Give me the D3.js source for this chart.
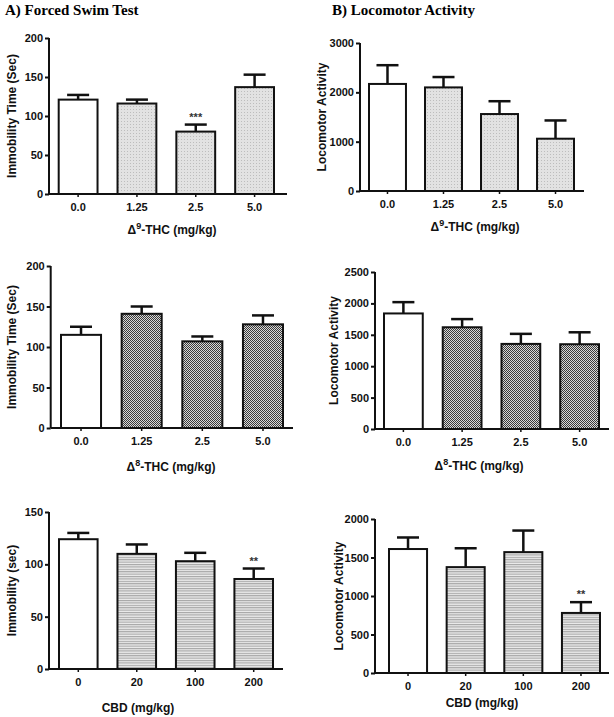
<!DOCTYPE html>
<html><head><meta charset="utf-8">
<script src="https://cdn.jsdelivr.net/npm/d3@7"></script>
<style>body{margin:0;background:#fff}svg{display:block}</style>
</head><body>
<svg id="c" width="614" height="717"></svg>
<script>
// ---- data ----
const thcDoses = ["0.0", "1.25", "2.5", "5.0"];
const cbdDoses = ["0", "20", "100", "200"];

const fstD9Mean = [121, 116, 80, 137];
const fstD9Err  = [127, 121, 89, 153];
const fstD9Sig  = ["", "", "***", ""];

const locD9Mean = [2170, 2100, 1560, 1060];
const locD9Err  = [2550, 2310, 1820, 1430];
const locD9Sig  = ["", "", "", ""];

const fstD8Mean = [115, 141, 107, 128];
const fstD8Err  = [125, 150, 113, 139];
const fstD8Sig  = ["", "", "", ""];

const locD8Mean = [1840, 1620, 1355, 1350];
const locD8Err  = [2020, 1750, 1515, 1540];
const locD8Sig  = ["", "", "", ""];

const fstCbdMean = [124, 110, 103, 86];
const fstCbdErr  = [130, 119, 111, 96];
const fstCbdSig  = ["", "", "", "**"];

const locCbdMean = [1610, 1375, 1570, 780];
const locCbdErr  = [1760, 1620, 1850, 920];
const locCbdSig  = ["", "", "", "**"];

const ticksFst200 = [0, 50, 100, 150, 200];
const ticksLoc3000 = [0, 1000, 2000, 3000];
const ticksLoc2500 = [0, 500, 1000, 1500, 2000, 2500];
const ticksFst150 = [0, 50, 100, 150];
const ticksLoc2000 = [0, 500, 1000, 1500, 2000];

const svg = d3.select("#c");
const defs = svg.append("defs");

// patterns
const pDot = defs.append("pattern").attr("id","dots").attr("width",3).attr("height",3).attr("patternUnits","userSpaceOnUse");
pDot.append("rect").attr("width",3).attr("height",3).attr("fill","#e2e2e2");
pDot.append("rect").attr("x",1).attr("y",1).attr("width",1).attr("height",1).attr("fill","#bdbdbd");

const pChk = defs.append("pattern").attr("id","checker").attr("width",2).attr("height",2).attr("patternUnits","userSpaceOnUse");
pChk.append("rect").attr("width",2).attr("height",2).attr("fill","#d8d8d8");
pChk.append("rect").attr("width",1).attr("height",1).attr("fill","#3a3a3a");
pChk.append("rect").attr("x",1).attr("y",1).attr("width",1).attr("height",1).attr("fill","#3a3a3a");

const pStr = defs.append("pattern").attr("id","stripes").attr("width",4).attr("height",2.4).attr("patternUnits","userSpaceOnUse");
pStr.append("rect").attr("width",4).attr("height",2.4).attr("fill","#ececec");
pStr.append("rect").attr("y",0).attr("width",4).attr("height",1.1).attr("fill","#a4a4a4");

const sans = "'Liberation Sans', Arial, sans-serif";
const serif = "'Liberation Serif', 'Times New Roman', serif";

// panel titles
svg.append("text").attr("x",5).attr("y",15).attr("font-family",serif).attr("font-weight","bold")
  .attr("font-size",15).text("A) Forced Swim Test");
svg.append("text").attr("x",332).attr("y",15).attr("font-family",serif).attr("font-weight","bold")
  .attr("font-size",15).text("B) Locomotor Activity");

function panel(o){
  const g = svg.append("g");
  const x = d3.scaleBand().domain(o.cats).range([o.barL, o.barR]).paddingInner(0.34).paddingOuter(0);
  const y = d3.scaleLinear().domain([0, o.ymax]).range([o.y0, o.y1]);

  // bars
  g.selectAll("rect.bar").data(o.mean).join("rect")
    .attr("x",(d,i)=>x(o.cats[i])).attr("width",x.bandwidth())
    .attr("y",d=>y(d)).attr("height",d=>y(0)-y(d))
    .attr("fill",(d,i)=> i===0 ? "#fff" : `url(#${o.pat})`)
    .attr("stroke","#111").attr("stroke-width",2);

  // error bars
  const cw = 11;
  o.mean.forEach((m,i)=>{
    const cx = x(o.cats[i]) + x.bandwidth()/2;
    g.append("line").attr("x1",cx).attr("x2",cx).attr("y1",y(m)).attr("y2",y(o.err[i]))
      .attr("stroke","#111").attr("stroke-width",2.5);
    g.append("line").attr("x1",cx-cw).attr("x2",cx+cw).attr("y1",y(o.err[i])).attr("y2",y(o.err[i]))
      .attr("stroke","#111").attr("stroke-width",2.5);
    if (o.sig[i]) {
      g.append("text").attr("x",cx).attr("y",y(o.err[i])-4).attr("text-anchor","middle")
        .attr("font-family",sans).attr("font-weight","bold").attr("font-size",11).attr("fill","#333")
        .text(o.sig[i]);
    }
  });

  // y axis
  const ya = g.append("g").attr("transform",`translate(${o.axL},0)`)
    .call(d3.axisLeft(y).tickValues(o.ticks).tickSize(4).tickPadding(2).tickFormat(d3.format("d")));
  ya.select(".domain").attr("stroke","#111").attr("stroke-width",2).attr("d",`M-0,${o.y0}V${o.y1}`);
  ya.selectAll(".tick line").attr("stroke","#111").attr("stroke-width",2);
  ya.selectAll(".tick text").attr("font-family",sans).attr("font-weight","bold").attr("font-size",11).attr("fill","#111");

  // x axis
  const xa = g.append("g").attr("transform",`translate(0,${o.y0})`)
    .call(d3.axisBottom(x).tickSize(3).tickPadding(6).tickSizeOuter(0));
  xa.select(".domain").attr("stroke","#111").attr("stroke-width",2).attr("d",`M${o.axL},0H${o.axR}`);
  xa.selectAll(".tick line").attr("stroke","#111").attr("stroke-width",1.5);
  xa.selectAll(".tick text").attr("font-family",sans).attr("font-weight","bold").attr("font-size",11).attr("fill","#111");

  // y label
  g.append("text").attr("transform",`translate(${o.ylabX},${(o.y0+o.y1)/2}) rotate(-90)`)
    .attr("text-anchor","middle").attr("font-family",sans).attr("font-weight","bold").attr("font-size",12)
    .attr("fill","#111").text(o.ylab);

  // x label
  const t = g.append("text").attr("x",o.xlabX).attr("y",o.xlabY).attr("text-anchor","middle")
    .attr("font-family",sans).attr("font-weight","bold").attr("font-size",12).attr("fill","#111");
  if (o.sup) {
    t.append("tspan").text("\u0394");
    t.append("tspan").attr("dy",-5).attr("font-size",9).text(o.sup);
    t.append("tspan").attr("dy",5).text(o.xlab);
  } else t.text(o.xlab);
}

panel({cats:thcDoses, mean:fstD9Mean, err:fstD9Err, sig:fstD9Sig, pat:"dots", ymax:200, ticks:ticksFst200,
  barL:58.7, barR:274, axL:49, axR:287, y0:194, y1:38, ylab:"Immobility Time (Sec)", ylabX:16,
  sup:"9", xlab:"-THC (mg/kg)", xlabX:172, xlabY:234});
panel({cats:thcDoses, mean:locD9Mean, err:locD9Err, sig:locD9Sig, pat:"dots", ymax:3000, ticks:ticksLoc3000,
  barL:369, barR:574, axL:360, axR:584, y0:191, y1:43, ylab:"Locomotor Activity", ylabX:326,
  sup:"9", xlab:"-THC (mg/kg)", xlabX:475, xlabY:231});
panel({cats:thcDoses, mean:fstD8Mean, err:fstD8Err, sig:fstD8Sig, pat:"checker", ymax:200, ticks:ticksFst200,
  barL:61, barR:283, axL:50.7, axR:293, y0:428, y1:266, ylab:"Immobility Time (Sec)", ylabX:16,
  sup:"8", xlab:"-THC (mg/kg)", xlabX:171, xlabY:471});
panel({cats:thcDoses, mean:locD8Mean, err:locD8Err, sig:locD8Sig, pat:"checker", ymax:2500, ticks:ticksLoc2500,
  barL:384, barR:599, axL:375, axR:609, y0:429, y1:272, ylab:"Locomotor Activity", ylabX:338,
  sup:"8", xlab:"-THC (mg/kg)", xlabX:479, xlabY:470});
panel({cats:cbdDoses, mean:fstCbdMean, err:fstCbdErr, sig:fstCbdSig, pat:"stripes", ymax:150, ticks:ticksFst150,
  barL:59, barR:273, axL:49, axR:283, y0:669, y1:512, ylab:"Immobility (sec)", ylabX:16,
  xlab:"CBD (mg/kg)", xlabX:138, xlabY:712});
panel({cats:cbdDoses, mean:locCbdMean, err:locCbdErr, sig:locCbdSig, pat:"stripes", ymax:2000, ticks:ticksLoc2000,
  barL:389, barR:600, axL:375, axR:609, y0:673, y1:519, ylab:"Locomotor Activity", ylabX:343,
  xlab:"CBD (mg/kg)", xlabX:482, xlabY:707});
</script>
</body></html>
